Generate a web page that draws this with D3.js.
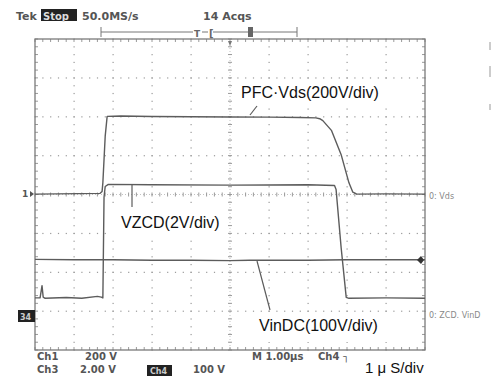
<!DOCTYPE html>
<html>
<head>
<meta charset="utf-8">
<script src="https://cdn.jsdelivr.net/npm/d3@7"></script>
<style>
  body { margin: 0; background: #fff; }
  svg { display: block; }
</style>
</head>
<body>
<svg id="scope" width="501" height="376"></svg>
<script>
// time axis in microseconds (1 us/div, 10 div)
var vdsTime = [0, 1.67, 1.72, 1.74, 1.8, 1.85, 2.2, 3.0, 4.0, 5.0, 6.0, 6.8, 7.2, 7.3, 7.38, 7.6, 7.85, 8.05, 8.15, 8.25, 9.0, 10];
var vdsVolts = [2, 6, 16, 60, 300, 402, 404, 401, 400, 399, 398, 396, 394, 390, 380, 330, 205, 60, 12, 2, 3, 2];

var zcdTime = [0, 0.13, 0.16, 0.18, 0.21, 0.26, 0.8, 1.2, 1.6, 1.7, 1.74, 1.77, 1.8, 1.88, 3.0, 5.0, 7.0, 7.68, 7.72, 7.85, 7.98, 8.05, 9.0, 10];
var zcdVolts = [0.82, 0.82, 1.2, 1.45, 0.86, 0.8, 0.84, 0.8, 0.9, 0.86, 0.82, 6.0, 6.55, 6.66, 6.64, 6.62, 6.64, 6.6, 6.4, 3.4, 0.85, 0.8, 0.82, 0.8];

var vinTime = [0, 1, 2, 3, 4, 5, 5.5, 6, 7, 8, 9, 9.6, 10];
var vinVolts = [140, 139, 139, 138, 138, 137, 138, 138, 138, 139, 139, 139, 139];

// channel settings: volts per division and zero offset in divisions
var channels = [
  { name: "Ch1", data: [vdsTime, vdsVolts], perDiv: 200, offset: 0 },
  { name: "Ch3", data: [zcdTime, zcdVolts], perDiv: 2, offset: -3.07 },
  { name: "Ch4", data: [vinTime, vinVolts], perDiv: 100, offset: -3.07 }
];

var svg = d3.select("#scope");
var gLeft = 35, gRight = 425, gTop = 39, gBottom = 350;

var x = d3.scaleLinear().domain([0, 10]).range([gLeft, gRight]);
var y = d3.scaleLinear().domain([-4, 4]).range([gBottom, gTop]);

var gridCol = "#9a9a9a", traceCol = "#5c5c5c", textCol = "#555";
var scopeFont = "'DejaVu Sans', sans-serif";
var labelFont = "'Liberation Sans', Arial, sans-serif";

// ---- graticule ----
var grid = svg.append("g");
var minor = d3.range(0, 10.01, 0.2);
var minorY = d3.range(-4, 4.01, 0.2);

// dotted division lines
d3.range(1, 10).forEach(function(d) {
  if (d == 5) return;
  grid.selectAll(null).data(minorY).enter().append("rect")
    .attr("x", x(d) - 0.5).attr("y", function(v) { return y(v) - 0.5; })
    .attr("width", 1.2).attr("height", 1.2).attr("fill", gridCol);
});
d3.range(-3, 4).forEach(function(d) {
  if (d == 0) return;
  grid.selectAll(null).data(minor).enter().append("rect")
    .attr("x", function(v) { return x(v) - 0.5; }).attr("y", y(d) - 0.5)
    .attr("width", 1.2).attr("height", 1.2).attr("fill", gridCol);
});

// centre cross with minor ticks
grid.selectAll(null).data(minorY).enter().append("line")
  .attr("x1", x(5) - 2).attr("x2", x(5) + 2)
  .attr("y1", function(v) { return y(v); }).attr("y2", function(v) { return y(v); })
  .attr("stroke", gridCol).attr("stroke-width", 1);
grid.selectAll(null).data(minor).enter().append("line")
  .attr("y1", y(0) - 2).attr("y2", y(0) + 2)
  .attr("x1", function(v) { return x(v); }).attr("x2", function(v) { return x(v); })
  .attr("stroke", gridCol).attr("stroke-width", 1);
grid.append("line").attr("x1", x(5)).attr("x2", x(5)).attr("y1", gTop).attr("y2", gBottom)
  .attr("stroke", gridCol).attr("stroke-width", 0.6).attr("stroke-dasharray", "1,2");
grid.append("line").attr("x1", gLeft).attr("x2", gRight).attr("y1", y(0)).attr("y2", y(0))
  .attr("stroke", gridCol).attr("stroke-width", 0.6).attr("stroke-dasharray", "1,2");

// border ticks
grid.selectAll(null).data(minor).enter().append("line")
  .attr("x1", function(v) { return x(v); }).attr("x2", function(v) { return x(v); })
  .attr("y1", gTop).attr("y2", gTop + 3).attr("stroke", gridCol);
grid.selectAll(null).data(minor).enter().append("line")
  .attr("x1", function(v) { return x(v); }).attr("x2", function(v) { return x(v); })
  .attr("y1", gBottom).attr("y2", gBottom - 3).attr("stroke", gridCol);
grid.selectAll(null).data(minorY).enter().append("line")
  .attr("y1", function(v) { return y(v); }).attr("y2", function(v) { return y(v); })
  .attr("x1", gLeft).attr("x2", gLeft + 3).attr("stroke", gridCol);
grid.selectAll(null).data(minorY).enter().append("line")
  .attr("y1", function(v) { return y(v); }).attr("y2", function(v) { return y(v); })
  .attr("x1", gRight).attr("x2", gRight - 3).attr("stroke", gridCol);

grid.append("rect").attr("x", gLeft).attr("y", gTop)
  .attr("width", gRight - gLeft).attr("height", gBottom - gTop)
  .attr("fill", "none").attr("stroke", "#7a7a7a").attr("stroke-width", 1.3);

// ---- traces ----
svg.append("clipPath").attr("id", "clip").append("rect")
  .attr("x", gLeft).attr("y", gTop).attr("width", gRight - gLeft).attr("height", gBottom - gTop);

var traces = svg.append("g").attr("clip-path", "url(#clip)");
channels.forEach(function(ch) {
  var pts = ch.data[0].map(function(t, i) { return [t, ch.data[1][i]]; });
  var line = d3.line()
    .x(function(d) { return x(d[0]); })
    .y(function(d) { return y(d[1] / ch.perDiv + ch.offset); });
  traces.append("path").datum(pts)
    .attr("d", line)
    .attr("fill", "none")
    .attr("stroke", traceCol)
    .attr("stroke-width", 1.4)
    .attr("stroke-linejoin", "round");
});

// ---- annotations with white boxes ----
function label(txt, tx, ty, box, lead) {
  svg.append("rect").attr("x", box[0]).attr("y", box[1])
    .attr("width", box[2]).attr("height", box[3]).attr("fill", "#fff");
  if (lead) {
    svg.append("line").attr("x1", lead[0]).attr("y1", lead[1])
      .attr("x2", lead[2]).attr("y2", lead[3])
      .attr("stroke", traceCol).attr("stroke-width", 1.2);
  }
  svg.append("text").attr("x", tx).attr("y", ty).text(txt)
    .attr("font-family", labelFont).attr("font-size", 16).attr("fill", "#111");
}
label("PFC\u00b7Vds(200V/div)", 241, 98, [236, 82, 152, 22], [250, 115, 257, 106]);
label("VZCD(2V/div)", 121, 228, [112, 207, 116, 28], [132, 185, 132, 207]);
label("VinDC(100V/div)", 259, 331, [253, 312, 140, 30], [257, 261, 270, 310]);

// ---- scope readouts ----
function readout(txt, tx, ty, size, col) {
  return svg.append("text").attr("x", tx).attr("y", ty).text(txt)
    .attr("font-family", scopeFont).attr("font-weight", "bold")
    .attr("font-size", size || 10).attr("fill", col || textCol);
}

readout("Tek", 16, 20, 11);
svg.append("rect").attr("x", 41).attr("y", 9).attr("width", 36).attr("height", 12).attr("fill", "#222");
readout("Stop", 43, 19.5, 10, "#ddd");
readout("50.0MS/s", 82, 20, 11);
readout("14 Acqs", 203, 20, 11);

// trigger position bar
var bar = svg.append("g").attr("stroke", "#777").attr("stroke-width", 1);
bar.append("line").attr("x1", 101).attr("x2", 297).attr("y1", 32).attr("y2", 32);
bar.append("line").attr("x1", 101).attr("x2", 101).attr("y1", 27).attr("y2", 37);
bar.append("line").attr("x1", 297).attr("x2", 297).attr("y1", 27).attr("y2", 37);
svg.append("rect").attr("x", 193).attr("y", 28).attr("width", 9).attr("height", 9).attr("fill", "#fff");
readout("T", 194, 36.5, 9, "#666");
svg.append("rect").attr("x", 208).attr("y", 27).attr("width", 5).attr("height", 10).attr("fill", "#fff");
readout("[", 209, 36.5, 10, "#666");
svg.append("rect").attr("x", 248).attr("y", 27).attr("width", 5).attr("height", 10).attr("fill", "#666");

// trigger marker on top edge
svg.append("path").attr("d", "M" + (x(5) - 2) + "," + (gTop + 2) + "L" + (x(5) + 2) + "," + (gTop + 2) + "L" + x(5) + "," + (gTop + 7) + "Z")
  .attr("fill", "#777");

// ground markers
readout("1", 22, 197, 9);
svg.append("path").attr("d", "M30,191L34,194L30,197Z").attr("fill", "#555");
svg.append("rect").attr("x", 18).attr("y", 310).attr("width", 17).attr("height", 12).attr("fill", "#222");
readout("34", 20, 319.5, 8, "#ccc");

// right side zero labels and trigger level
svg.append("text").attr("x", 429).attr("y", 199).text("0: Vds")
  .attr("font-family", scopeFont).attr("font-size", 8).attr("fill", "#888");
svg.append("text").attr("x", 429).attr("y", 318).text("0: ZCD. VinD")
  .attr("font-family", scopeFont).attr("font-size", 8).attr("fill", "#888");
svg.append("path").attr("d", "M417,260L421,256L424,260L421,264Z").attr("fill", "#333");

// cut-off fragments at far right
svg.append("g").attr("stroke", "#aaa").attr("stroke-width", 1.2)
  .selectAll("line").data([[42, 50], [66, 77], [104, 110]]).enter().append("line")
  .attr("x1", 490).attr("x2", 490)
  .attr("y1", function(d) { return d[0]; }).attr("y2", function(d) { return d[1]; });

// bottom readouts
readout("Ch1", 37, 360);
readout("200 V", 85, 360);
readout("Ch3", 37, 373);
readout("2.00 V", 80, 373);
svg.append("rect").attr("x", 147).attr("y", 365).attr("width", 25).attr("height", 11).attr("fill", "#222");
readout("Ch4", 150, 374, 8, "#ccc");
readout("100 V", 193, 373);
readout("M 1.00\u00b5s", 252, 360);
readout("Ch4 \u2510", 318, 360);

svg.append("rect").attr("x", 356).attr("y", 352).attr("width", 145).attr("height", 24).attr("fill", "#fff");
svg.append("text").attr("x", 365).attr("y", 373).text("1 \u03bc S/div")
  .attr("font-family", labelFont).attr("font-size", 15).attr("fill", "#111");
</script>
</body>
</html>
